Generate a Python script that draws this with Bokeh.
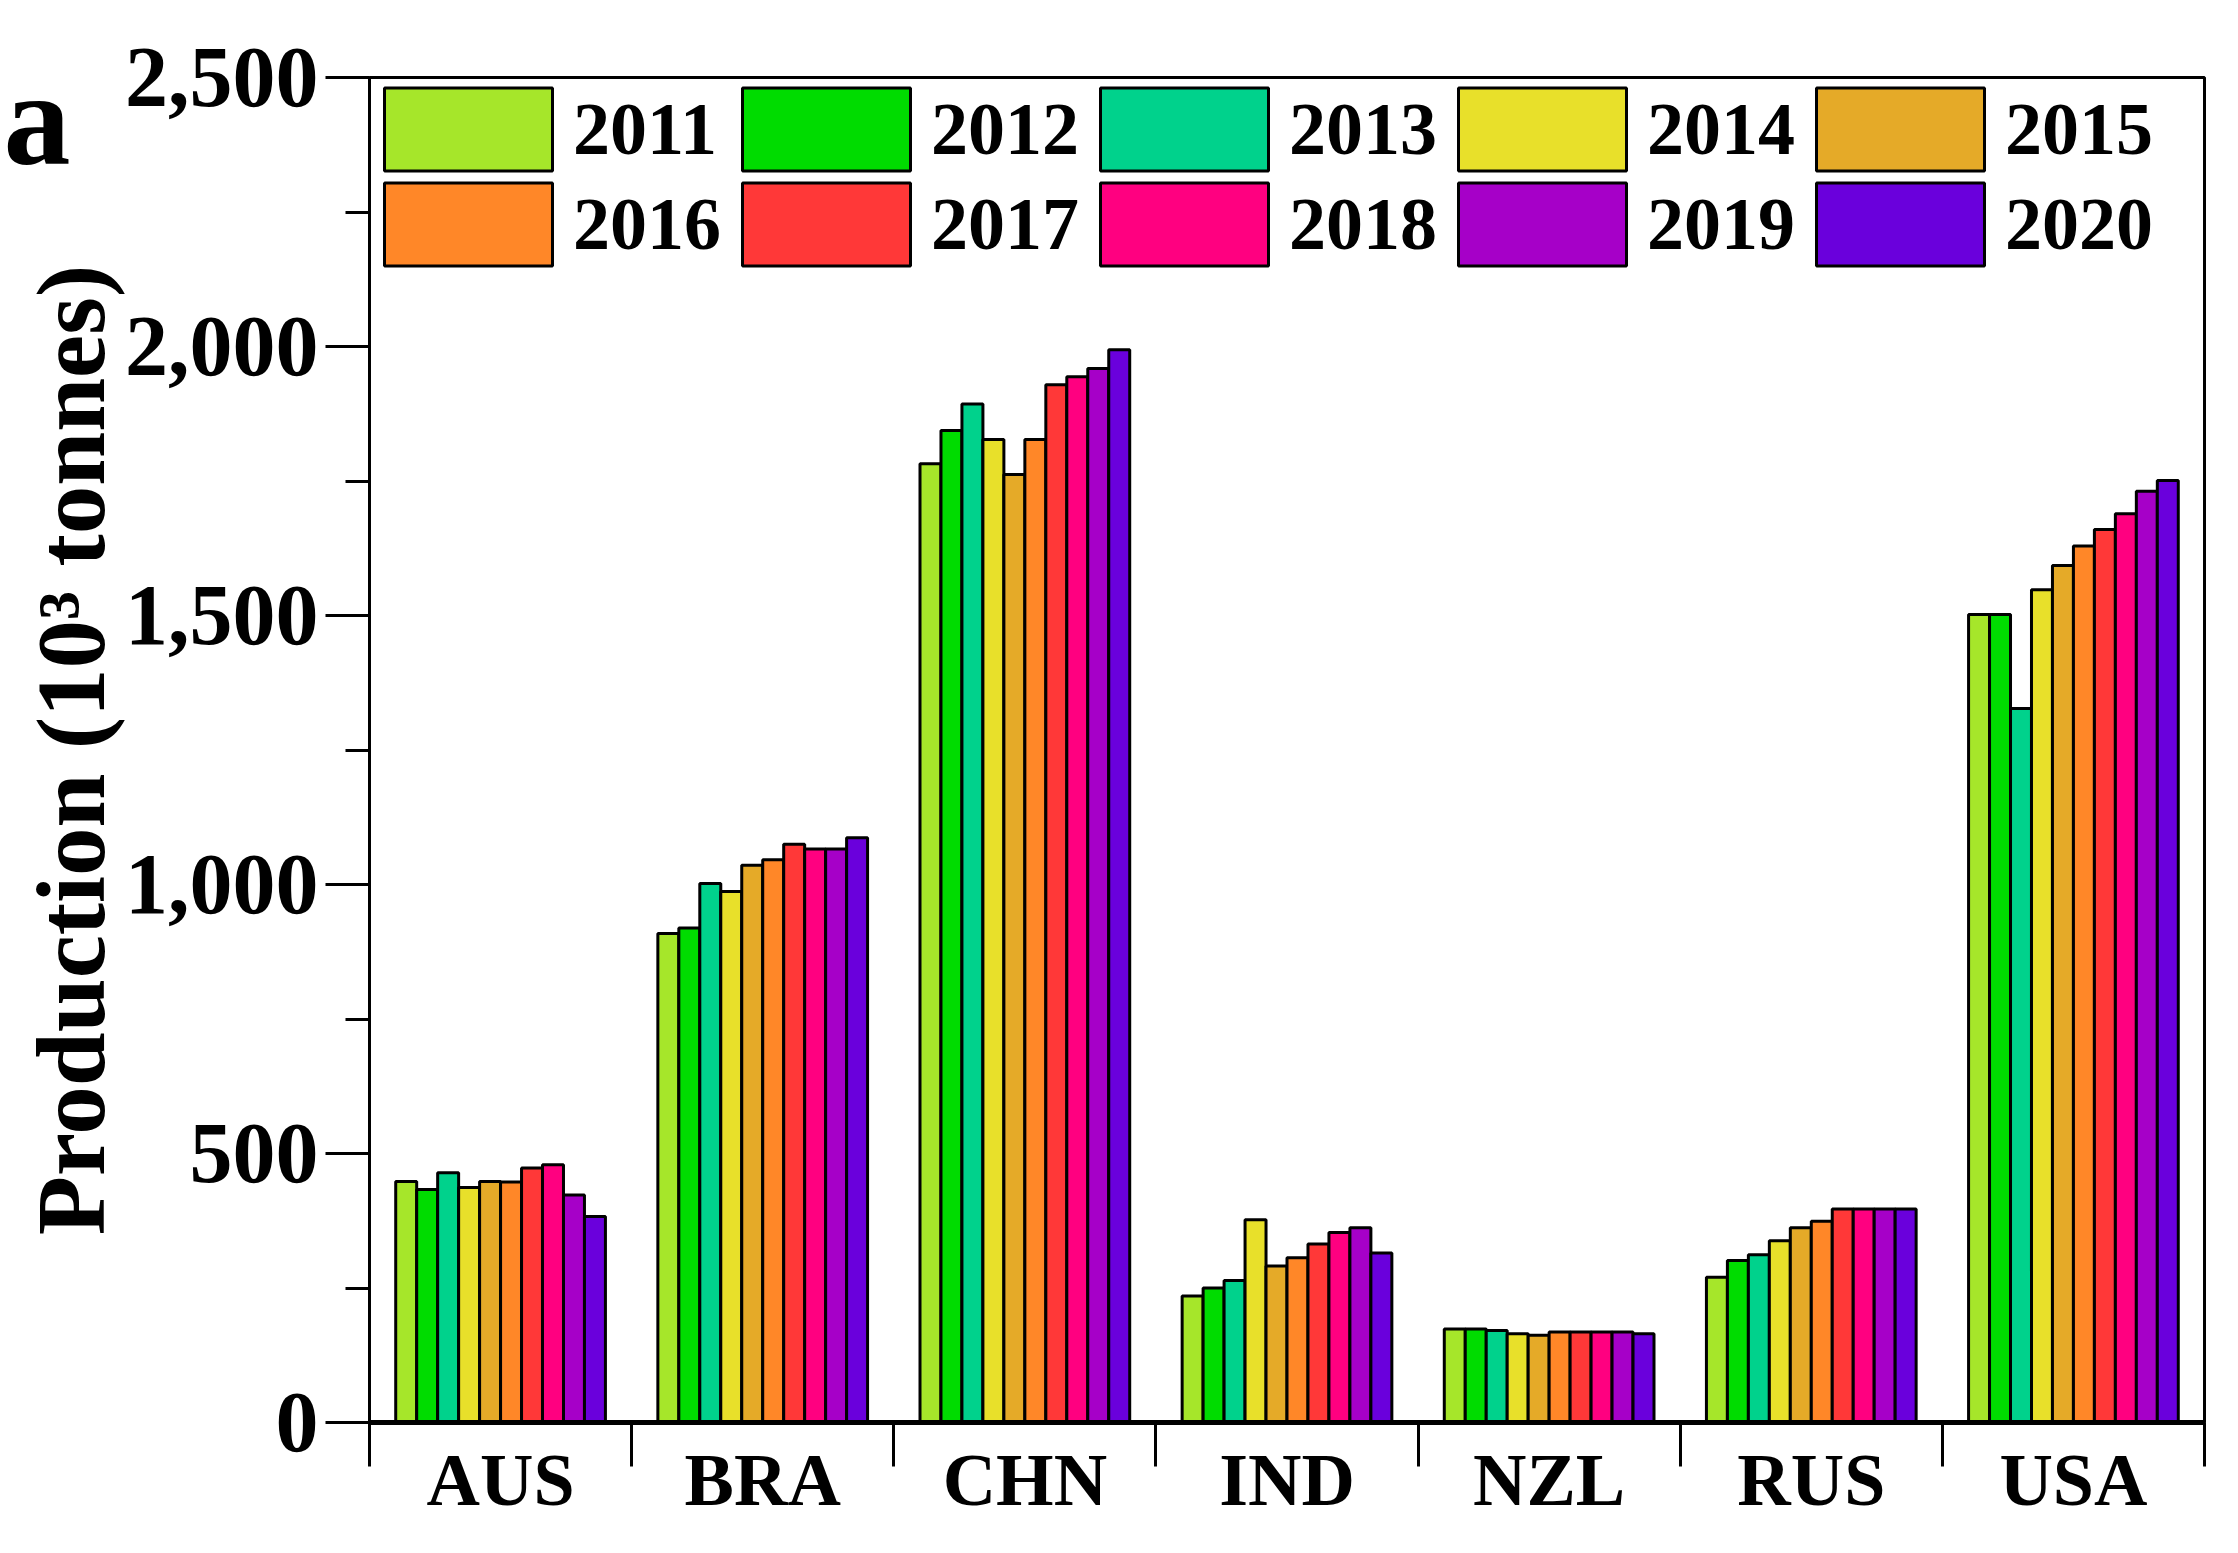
from bokeh.plotting import figure
from bokeh.models import ColumnDataSource, FixedTicker, Legend, LegendItem, NumeralTickFormatter, Range1d
from bokeh.embed import file_html
from bokeh.resources import INLINE


#data (10^3 tonnes)
countries = ["AUS", "BRA", "CHN", "IND", "NZL", "RUS", "USA"]
years = ["2011", "2012", "2013", "2014", "2015", "2016", "2017", "2018", "2019", "2020"]
colors = ["#A6E62A", "#00DC00", "#00D28C", "#E8E02A", "#E5AA28", "#FF8728", "#FF3838", "#FF0080", "#A600C8", "#6A00DC"]
aus = [448, 433, 464, 437, 448, 447, 473, 479, 423, 383]
bra = [909, 919, 1002, 987, 1036, 1046, 1075, 1066, 1066, 1087]
chn = [1782, 1844, 1893, 1827, 1762, 1827, 1929, 1944, 1959, 1994]
ind = [235, 250, 264, 377, 291, 306, 332, 353, 362, 315]
nzl = [174, 174, 171, 165, 162, 168, 168, 168, 168, 165]
rus = [270, 301, 312, 338, 362, 374, 397, 397, 397, 397]
usa = [1502, 1502, 1327, 1548, 1593, 1629, 1660, 1689, 1731, 1751]
production = [aus, bra, chn, ind, nzl, rus, usa]
y_major = [0, 500, 1000, 1500, 2000, 2500]
y_minor = [250, 750, 1250, 1750, 2250]

FONT = "Liberation Serif"
BAR = 0.08


#visualize
p = figure(width=2230, height=1545, frame_width=1835, frame_height=1345,
           x_range=Range1d(0, 7), y_range=Range1d(0, 2500),
           output_backend="svg", toolbar_location=None,
           min_border_left=369, min_border_right=26, min_border_top=77, min_border_bottom=123,
           background_fill_color="white", border_fill_color="white",
           outline_line_color="black", outline_line_width=3)
p.grid.visible = False

bars = []
for j, year in enumerate(years):
    x = [i + 0.5 + (j - 4.5) * BAR for i in range(len(countries))]
    top = [row[j] for row in production]
    source = ColumnDataSource(dict(x=x, top=top))
    bars.append(p.vbar(x="x", top="top", width=BAR, source=source, fill_color=colors[j],
                       line_color="black", line_width=3))

#x axis: labels sit mid category, the tick marks on the boundaries
p.xaxis.ticker = FixedTicker(ticks=[i + 0.5 for i in range(7)], minor_ticks=list(range(8)))
p.xaxis.major_label_overrides = {i + 0.5: c for i, c in enumerate(countries)}
p.xaxis.major_tick_line_color = None
p.xaxis.major_tick_in = 0
p.xaxis.major_tick_out = 0
p.xaxis.minor_tick_in = 0
p.xaxis.minor_tick_out = 44
p.xaxis.minor_tick_line_color = "black"
p.xaxis.minor_tick_line_width = 3
p.xaxis.axis_line_color = "black"
p.xaxis.axis_line_width = 5
p.xaxis.major_label_standoff = -28
p.xaxis.major_label_text_font = FONT
p.xaxis.major_label_text_font_style = "bold"
p.xaxis.major_label_text_font_size = "74px"
p.xaxis.major_label_text_color = "black"

#y axis
p.yaxis.ticker = FixedTicker(ticks=y_major, minor_ticks=y_minor)
p.yaxis.formatter = NumeralTickFormatter(format="0,0")
p.yaxis.major_tick_in = 0
p.yaxis.major_tick_out = 44
p.yaxis.minor_tick_in = 0
p.yaxis.minor_tick_out = 24
p.yaxis.major_tick_line_width = 3
p.yaxis.minor_tick_line_width = 3
p.yaxis.major_tick_line_color = "black"
p.yaxis.minor_tick_line_color = "black"
p.yaxis.axis_line_color = "black"
p.yaxis.axis_line_width = 3
p.yaxis.major_label_standoff = 7
p.yaxis.major_label_text_font = FONT
p.yaxis.major_label_text_font_style = "bold"
p.yaxis.major_label_text_font_size = "86px"
p.yaxis.major_label_text_color = "black"
p.yaxis.axis_label = "Production (10\u00b3 tonnes)"
p.yaxis.axis_label_text_font = FONT
p.yaxis.axis_label_text_font_style = "bold"
p.yaxis.axis_label_text_font_size = "97px"
p.yaxis.axis_label_text_color = "black"
p.yaxis.axis_label_standoff = -3


#legend, one per row so the rows can sit closer than bokeh's spacing allows
#bokeh draws the swatch at 80% of the glyph area
def add_legend_row(first, y):
    items = [LegendItem(label=years[j], renderers=[bars[j]]) for j in range(first, first + 5)]
    row = Legend(items=items, orientation="horizontal", location=(-6, y),
                 glyph_width=210, glyph_height=104, label_standoff=0, label_width=148,
                 spacing=0, padding=0, margin=0, border_line_color=None, background_fill_alpha=0,
                 label_text_font=FONT, label_text_font_style="bold", label_text_font_size="74px",
                 label_text_color="black")
    p.add_layout(row)


add_legend_row(0, 1241)
add_legend_row(5, 1146)

#panel letter, a Label gets clipped out here so it is a text glyph on the overlay level
p.text(x=[-1.396], y=[2423], text=["a"], text_font=FONT, text_font_style="bold",
       text_font_size="134px", text_color="black", text_baseline="alphabetic", level="overlay")

open("out.html", "w").write(file_html(p, INLINE))
